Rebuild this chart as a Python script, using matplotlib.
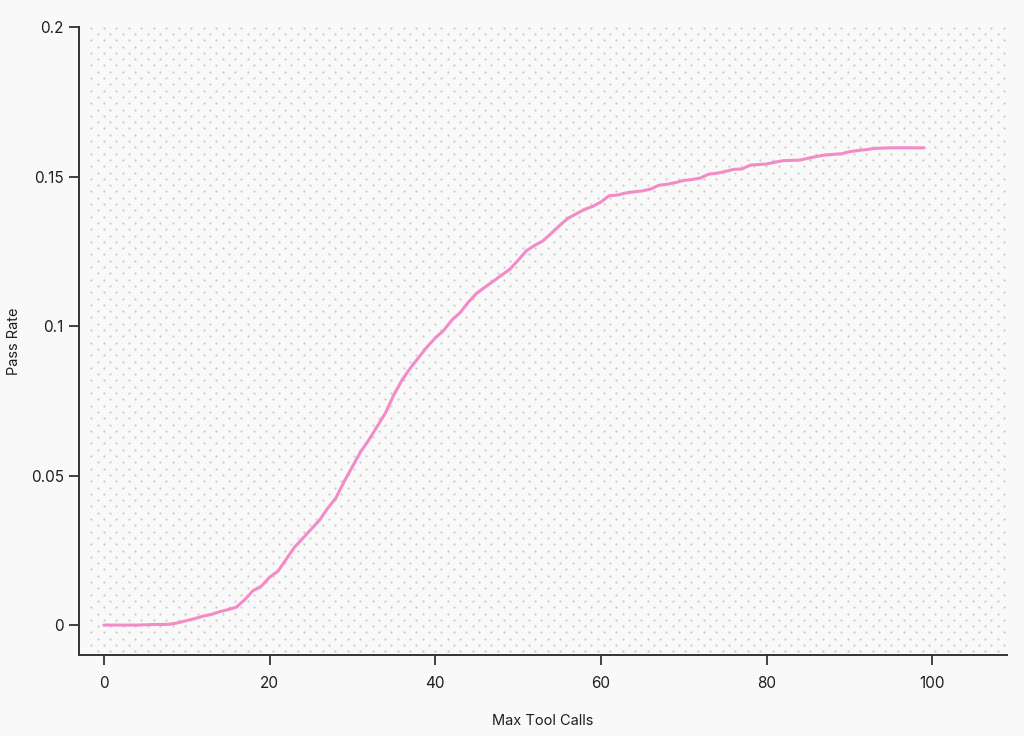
import numpy as np
import matplotlib
matplotlib.use("Agg")
from matplotlib import pyplot as plt


# 読み取った値 (Max Tool Calls -> Pass Rate)
max_tool_calls = list(range(0, 100))
pass_rate = [
    0.0000, 0.0000, 0.0000, 0.0000, 0.0000, 0.0001, 0.0002, 0.0002, 0.0003, 0.0008,
    0.0015, 0.0022, 0.0030, 0.0036, 0.0045, 0.0052, 0.0060, 0.0085, 0.0115, 0.0130,
    0.0160, 0.0180, 0.0220, 0.0260, 0.0290, 0.0320, 0.0350, 0.0390, 0.0425, 0.0480,
    0.0530, 0.0580, 0.0620, 0.0665, 0.0710, 0.0770, 0.0820, 0.0860, 0.0895, 0.0930,
    0.0960, 0.0985, 0.1020, 0.1045, 0.1080, 0.1110, 0.1130, 0.1150, 0.1170, 0.1190,
    0.1220, 0.1252, 0.1270, 0.1285, 0.1310, 0.1336, 0.1360, 0.1375, 0.1390, 0.1400,
    0.1415, 0.1436, 0.1438, 0.1445, 0.1449, 0.1452, 0.1458, 0.1471, 0.1474, 0.1480,
    0.1487, 0.1490, 0.1495, 0.1508, 0.1511, 0.1517, 0.1524, 0.1525, 0.1538, 0.1540,
    0.1542, 0.1548, 0.1553, 0.1554, 0.1555, 0.1561, 0.1567, 0.1572, 0.1574, 0.1576,
    0.1583, 0.1587, 0.1590, 0.1594, 0.1595, 0.1596, 0.1596, 0.1596, 0.1596, 0.1596,
]
x_ticks = [0, 20, 40, 60, 80, 100]
y_ticks = [0, 0.05, 0.1, 0.15, 0.2]
y_tick_labels = ["0", "0.05", "0.1", "0.15", "0.2"]

BG = "#F9F9F9"
INK = "#1F1F1F"
LINE = "#F38BC6"

plt.rcParams["font.family"] = ["Inter", "DejaVu Sans"]


def draw_dots(fig, ax):
    # 背景のドット模様 (ピクセル単位で配置)
    fig.canvas.draw()
    bbox = ax.get_window_extent()
    w, h = bbox.width, bbox.height
    sx, sy = 12.5, 6.3
    xs, ys = [], []
    row = 0
    y = h - 0.7
    while y > 0:
        x0 = 12.3 if row % 2 == 0 else 18.55
        x = x0
        while x < w:
            xs.append(x / w)
            ys.append(y / h)
            x += sx
        y -= sy
        row += 1
    ax.scatter(xs, ys, s=2.6, color="#CDCDCD", linewidths=0,
               transform=ax.transAxes, zorder=0, clip_on=True)


def main():
    fig = plt.figure(figsize=(10.24, 7.36), dpi=100, facecolor=BG)
    ax = fig.add_axes([79 / 1024, 81 / 736, 928 / 1024, 628 / 736])
    ax.set_facecolor(BG)

    ax.plot(max_tool_calls, pass_rate, color=LINE, linewidth=2.2, zorder=3,
            solid_capstyle="round", solid_joinstyle="round")

    ax.set_xlim(-3, 109)
    ax.set_ylim(-0.01, 0.2)
    ax.set_xticks(x_ticks)
    ax.set_yticks(y_ticks)
    ax.set_yticklabels(y_tick_labels)

    for side in ["top", "right"]:
        ax.spines[side].set_visible(False)
    for side in ["left", "bottom"]:
        ax.spines[side].set_color("#333333")
        ax.spines[side].set_linewidth(1.4)

    ax.tick_params(axis="both", colors="#333333", labelcolor=INK,
                   labelsize=11, length=7, width=1.3)
    ax.tick_params(axis="x", pad=8)
    ax.tick_params(axis="y", pad=4)

    ax.set_xlabel("Max Tool Calls", fontsize=10.5, color=INK, va="center")
    ax.set_ylabel("Pass Rate", fontsize=10.5, color=INK, va="center")
    ax.xaxis.set_label_coords(0.5, (655 - 721) / 628)
    ax.yaxis.set_label_coords((14 - 79) / 928, 0.5)

    draw_dots(fig, ax)
    fig.savefig("out.png", dpi=100, facecolor=BG)


if __name__ == "__main__":
    main()
